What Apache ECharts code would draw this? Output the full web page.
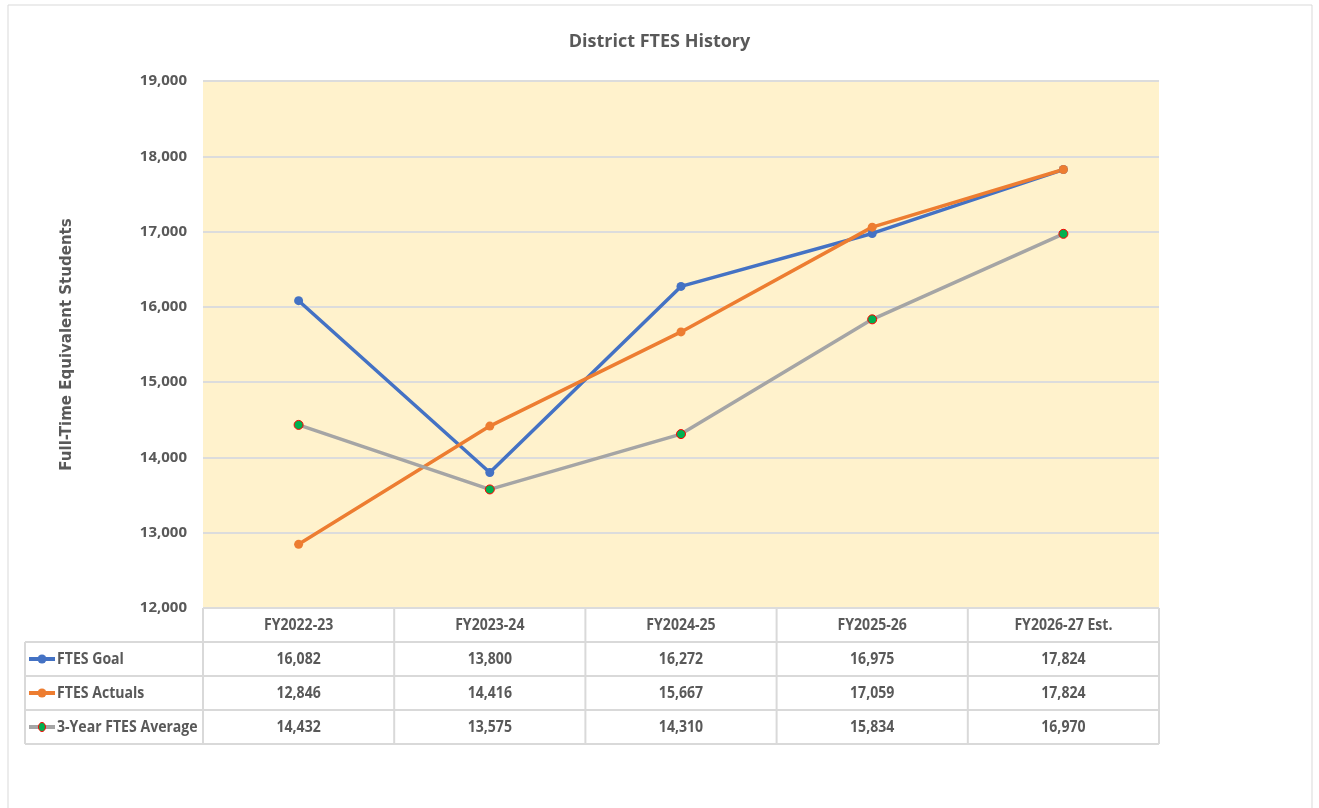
<!DOCTYPE html>
<html>
<head>
<meta charset="utf-8">
<script src="https://cdn.jsdelivr.net/npm/echarts@6/dist/echarts.min.js"></script>
<style>
  html, body { margin: 0; padding: 0; background: #fff; }
  #main { width: 1319px; height: 808px; }
</style>
</head>
<body>
<div id="main"></div>
<script>
// data
var categories = ['FY2022-23', 'FY2023-24', 'FY2024-25', 'FY2025-26', 'FY2026-27 Est.'];
var goal = [16082, 13800, 16272, 16975, 17824];
var actuals = [12846, 14416, 15667, 17059, 17824];
var average = [14432, 13575, 14310, 15834, 16970];
var seriesNames = ['FTES Goal', 'FTES Actuals', '3-Year FTES Average'];

var FONT = "'Open Sans', sans-serif";
var TXT = '#595959';
var LINE = '#d9d9d9';

// plot box
var G = { left: 203, right: 160, top: 81, bottom: 200 };
var W = 1319, H = 808;
var rowH = 34;

var chart = echarts.init(document.getElementById('main'));

function fmt(v) {
    return v.toLocaleString('en-US');
}

function buildTable() {
    var x0 = G.left, x1 = W - G.right, y0 = H - G.bottom;
    var colW = (x1 - x0) / categories.length;
    var legendX = 25;
    var els = [];
    var rows = [goal, actuals, average];
    var colors = ['#4472C4', '#ED7D31', '#A5A5A5'];
    var i, j;

    // horizontal lines
    els.push({ type: 'line', shape: { x1: x0, y1: y0, x2: x1, y2: y0 }, style: { stroke: LINE, lineWidth: 2 } });
    for (i = 1; i <= 4; i++) {
        var y = y0 + rowH * i;
        els.push({ type: 'line', shape: { x1: legendX, y1: y, x2: x1, y2: y }, style: { stroke: LINE, lineWidth: 2 } });
    }
    // vertical lines
    for (j = 0; j <= categories.length; j++) {
        var x = x0 + colW * j;
        els.push({ type: 'line', shape: { x1: x, y1: y0, x2: x, y2: y0 + rowH * 4 }, style: { stroke: LINE, lineWidth: 2 } });
    }
    els.push({ type: 'line', shape: { x1: legendX, y1: y0 + rowH, x2: legendX, y2: y0 + rowH * 4 }, style: { stroke: LINE, lineWidth: 2 } });

    // header
    for (j = 0; j < categories.length; j++) {
        els.push({ type: 'text', x: x0 + colW * (j + 0.5), y: y0 + rowH / 2, scaleX: 0.88,
            style: { text: categories[j], font: 'bold 16px ' + FONT, fill: TXT, align: 'center', verticalAlign: 'middle' } });
    }
    // rows
    for (i = 0; i < rows.length; i++) {
        var cy = y0 + rowH * (i + 1.5);
        // legend key
        els.push({ type: 'line', shape: { x1: legendX + 4, y1: cy, x2: legendX + 30, y2: cy }, style: { stroke: colors[i], lineWidth: 4 } });
        if (i === 2) {
            els.push({ type: 'ellipse', shape: { cx: legendX + 17, cy: cy, rx: 3.5, ry: 4.5 }, style: { fill: '#00B050', stroke: '#FF0000', lineWidth: 1 } });
        } else {
            els.push({ type: 'circle', shape: { cx: legendX + 17, cy: cy, r: 4.5 }, style: { fill: colors[i] } });
        }
        els.push({ type: 'text', x: legendX + 32, y: cy, scaleX: 0.88,
            style: { text: seriesNames[i], font: 'bold 16px ' + FONT, fill: TXT, align: 'left', verticalAlign: 'middle' } });
        for (j = 0; j < categories.length; j++) {
            els.push({ type: 'text', x: x0 + colW * (j + 0.5), y: cy, scaleX: 0.88,
                style: { text: fmt(rows[i][j]), font: 'bold 16px ' + FONT, fill: TXT, align: 'center', verticalAlign: 'middle' } });
        }
    }
    // outer frame of the chart area
    els.push({ type: 'rect', shape: { x: 8, y: 5, width: 1304, height: 820 }, style: { fill: null, stroke: '#d9d9d9', lineWidth: 1 }, z: -1 });
    return els;
}

chart.setOption({
    backgroundColor: '#fff',
    animation: false,
    title: {
        text: 'District FTES History',
        left: 'center',
        top: 28,
        textStyle: { fontFamily: FONT, fontSize: 18, fontWeight: 'bold', color: TXT }
    },
    grid: {
        left: G.left, right: G.right, top: G.top, bottom: G.bottom,
        show: true, backgroundColor: '#FFF2CC', borderWidth: 0
    },
    xAxis: {
        type: 'category',
        data: categories,
        boundaryGap: true,
        axisLine: { show: false },
        axisTick: { show: false },
        axisLabel: { show: false }
    },
    yAxis: {
        type: 'value',
        min: 12000,
        max: 19000,
        interval: 1000,
        name: 'Full-Time Equivalent Students',
        nameLocation: 'middle',
        nameGap: 128,
        nameTextStyle: { fontFamily: 'DejaVu Sans', fontSize: 15, fontWeight: 'bold', color: TXT },
        axisLine: { show: false },
        axisTick: { show: false },
        axisLabel: {
            margin: 16,
            fontFamily: FONT, fontSize: 15, fontWeight: 'bold', color: TXT,
            formatter: function (v) { return fmt(v); }
        },
        splitLine: { lineStyle: { color: '#dcdcdc', width: 2 } }
    },
    series: [
        {
            name: seriesNames[0], type: 'line', data: goal,
            symbol: 'circle', symbolSize: 9,
            lineStyle: { color: '#4472C4', width: 3.5 },
            itemStyle: { color: '#4472C4' }
        },
        {
            name: seriesNames[1], type: 'line', data: actuals,
            symbol: 'circle', symbolSize: 9,
            lineStyle: { color: '#ED7D31', width: 3.5 },
            itemStyle: { color: '#ED7D31' }
        },
        {
            name: seriesNames[2], type: 'line', data: average,
            symbol: 'circle', symbolSize: 9,
            lineStyle: { color: '#A5A5A5', width: 3.5 },
            itemStyle: { color: '#00B050', borderColor: '#FF0000', borderWidth: 1 }
        }
    ],
    graphic: buildTable()
});
</script>
</body>
</html>
